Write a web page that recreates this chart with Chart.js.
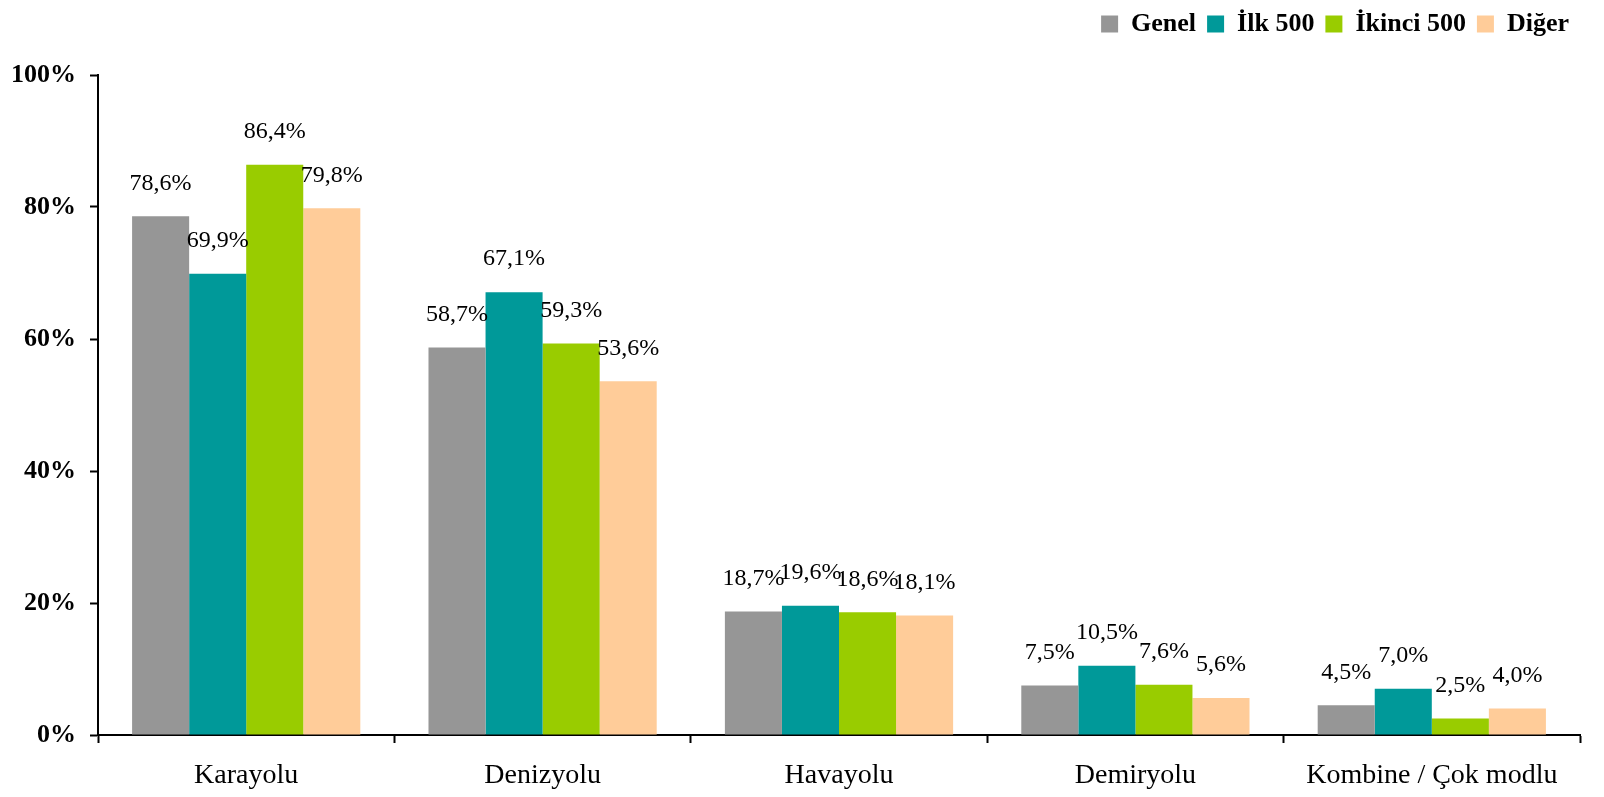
<!DOCTYPE html>
<html>
<head>
<meta charset="utf-8">
<script src="https://cdn.jsdelivr.net/npm/chart.js@4"></script>
<style>
  html, body { margin: 0; padding: 0; background: #fff; }
  #wrap { width: 1604px; height: 797px; }
</style>
</head>
<body>
<div id="wrap"><canvas id="modChart" width="1604" height="797"></canvas></div>
<script>
const categories = ["Karayolu", "Denizyolu", "Havayolu", "Demiryolu", "Kombine / Çok modlu"];
const seriesNames = ["Genel", "İlk 500", "İkinci 500", "Diğer"];
const genel = [78.6, 58.7, 18.7, 7.5, 4.5];
const ilk500 = [69.9, 67.1, 19.6, 10.5, 7.0];
const ikinci500 = [86.4, 59.3, 18.6, 7.6, 2.5];
const diger = [79.8, 53.6, 18.1, 5.6, 4.0];
const yTicks = [0, 20, 40, 60, 80, 100];

const colors = ["#969696", "#009999", "#99CC00", "#FFCC99"];
const FONT = "'Liberation Serif', 'Times New Roman', serif";

// value labels above each bar, written with a comma decimal
const barLabels = {
  id: "barLabels",
  afterDatasetsDraw(chart) {
    const ctx = chart.ctx;
    ctx.save();
    ctx.font = "24px " + FONT;
    ctx.fillStyle = "#000";
    ctx.textAlign = "center";
    ctx.textBaseline = "middle";
    chart.data.datasets.forEach((ds, di) => {
      const meta = chart.getDatasetMeta(di);
      meta.data.forEach((bar, i) => {
        const txt = ds.data[i].toFixed(1).replace(".", ",") + "%";
        ctx.fillText(txt, bar.x, bar.y - 33);
      });
    });
    ctx.restore();
  }
};

// leave some room between the legend row and the top of the plot
const legendGap = {
  id: "legendGap",
  beforeInit(chart) {
    const fit = chart.legend.fit;
    chart.legend.fit = function () {
      fit.call(this);
      this.height += 28;
    };
  }
};

const series = [genel, ilk500, ikinci500, diger];

new Chart(document.getElementById("modChart"), {
  type: "bar",
  data: {
    labels: categories,
    datasets: series.map((d, i) => ({
      label: seriesNames[i],
      data: d,
      backgroundColor: colors[i],
      borderWidth: 0,
      barPercentage: 1,
      categoryPercentage: 0.77
    }))
  },
  options: {
    responsive: false,
    animation: false,
    layout: { padding: { left: 0, right: 24, top: 0, bottom: 0 } },
    plugins: {
      tooltip: { enabled: false },
      legend: {
        position: "top",
        align: "end",
        labels: {
          boxWidth: 17,
          boxHeight: 17,
          padding: 11,
          color: "#000",
          font: { family: FONT, size: 26, weight: "bold" }
        }
      }
    },
    scales: {
      x: {
        grid: {
          display: true,
          drawOnChartArea: false,
          drawTicks: true,
          tickLength: 8,
          tickWidth: 2,
          color: "#000"
        },
        border: { display: true, color: "#000", width: 2 },
        ticks: {
          color: "#000",
          padding: 16,
          font: { family: FONT, size: 28 },
          maxRotation: 0
        },
        afterFit(s) { s.height = 62; }
      },
      y: {
        min: 0,
        max: 100,
        afterBuildTicks(s) { s.ticks = yTicks.map(v => ({ value: v })); },
        grid: {
          display: true,
          drawOnChartArea: false,
          drawTicks: true,
          tickLength: 8,
          tickWidth: 2,
          color: "#000"
        },
        border: { display: true, color: "#000", width: 2 },
        ticks: {
          color: "#000",
          padding: 14,
          font: { family: FONT, size: 26, weight: "bold" },
          callback: v => v + "%"
        },
        afterFit(s) { s.width = 98; }
      }
    }
  },
  plugins: [barLabels, legendGap]
});
</script>
</body>
</html>
